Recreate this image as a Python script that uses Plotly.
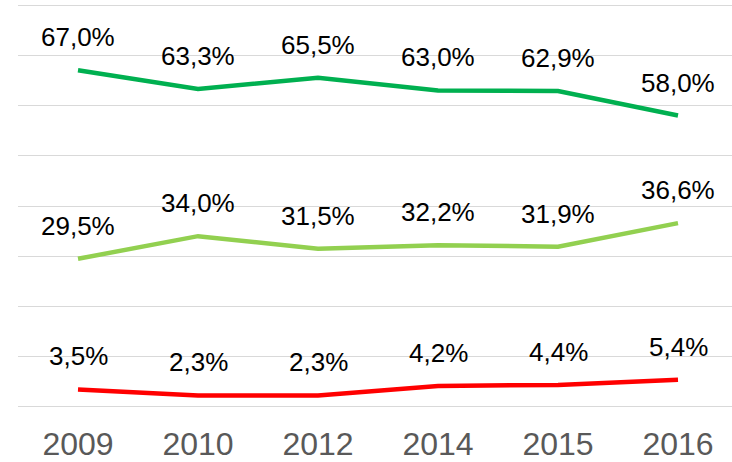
import plotly.graph_objects as go

years = ["2009", "2010", "2012", "2014", "2015", "2016"]
high = [67.0, 63.3, 65.5, 63.0, 62.9, 58.0]
mid = [29.5, 34.0, 31.5, 32.2, 31.9, 36.6]
low = [3.5, 2.3, 2.3, 4.2, 4.4, 5.4]

series = [
    (high, "#00B050"),
    (mid, "#92D050"),
    (low, "#FF0000"),
]

FONT = "Liberation Sans, Arial, sans-serif"

fig = go.Figure()
annotations = []
for values, color in series:
    fig.add_trace(go.Scatter(
        x=years, y=values, mode="lines",
        line=dict(color=color, width=4.5),
        hoverinfo="skip", showlegend=False,
    ))
    for i, v in enumerate(values):
        annotations.append(dict(
            xref="x", yref="y", x=i, y=v,
            text=f"{v:.1f}%".replace(".", ","),
            showarrow=False, yshift=33,
            xanchor="center", yanchor="middle",
            font=dict(family=FONT, size=26, color="#000000"),
        ))

fig.update_layout(
    width=732, height=462,
    margin=dict(l=18, r=0, t=0, b=51),
    paper_bgcolor="white", plot_bgcolor="white",
    annotations=annotations,
    xaxis=dict(
        type="category", range=[-0.5, 5.45],
        showgrid=False, zeroline=False, showline=False,
        ticks="", ticklabelstandoff=13,
        tickfont=dict(family=FONT, size=32, color="#595959"),
    ),
    yaxis=dict(
        range=[-0.4, 81.0], tickvals=[0, 10, 20, 30, 40, 50, 60, 70, 80],
        showticklabels=False,
        showgrid=True, gridcolor="#D9D9D9", gridwidth=1.3,
        zeroline=False, showline=False, ticks="",
    ),
)

fig.write_html("out.html")
